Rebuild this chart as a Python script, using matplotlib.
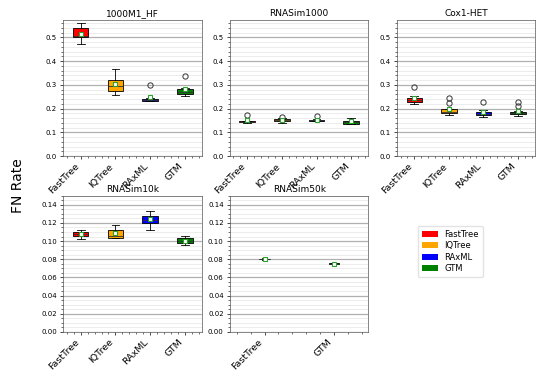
import matplotlib
matplotlib.use("Agg")
import matplotlib.pyplot as plt
from matplotlib.patches import Patch
from matplotlib.ticker import AutoMinorLocator

methods = ["FastTree", "IQTree", "RAxML", "GTM"]
colors = {"FastTree": "red", "IQTree": "orange", "RAxML": "blue", "GTM": "green"}

datasets = ["1000M1_HF", "RNASim1000", "Cox1-HET", "RNASim10k", "RNASim50k"]
ds_methods = {
    "1000M1_HF": ["FastTree", "IQTree", "RAxML", "GTM"],
    "RNASim1000": ["FastTree", "IQTree", "RAxML", "GTM"],
    "Cox1-HET": ["FastTree", "IQTree", "RAxML", "GTM"],
    "RNASim10k": ["FastTree", "IQTree", "RAxML", "GTM"],
    "RNASim50k": ["FastTree", "GTM"],
}
whislo = {
    "1000M1_HF": [0.472, 0.257, 0.232, 0.253],
    "RNASim1000": [0.141, 0.139, 0.147, 0.134],
    "Cox1-HET": [0.220, 0.172, 0.166, 0.170],
    "RNASim10k": [0.102, 0.103, 0.112, 0.096],
    "RNASim50k": [0.0793, 0.0742],
}
q1 = {
    "1000M1_HF": [0.501, 0.275, 0.233, 0.261],
    "RNASim1000": [0.142, 0.147, 0.149, 0.136],
    "Cox1-HET": [0.230, 0.182, 0.172, 0.176],
    "RNASim10k": [0.1057, 0.1035, 0.120, 0.098],
    "RNASim50k": [0.0797, 0.0745],
}
med = {
    "1000M1_HF": [0.507, 0.295, 0.237, 0.270],
    "RNASim1000": [0.145, 0.151, 0.151, 0.142],
    "Cox1-HET": [0.238, 0.188, 0.179, 0.180],
    "RNASim10k": [0.108, 0.106, 0.123, 0.100],
    "RNASim50k": [0.0800, 0.0750],
}
q3 = {
    "1000M1_HF": [0.538, 0.319, 0.241, 0.284],
    "RNASim1000": [0.147, 0.157, 0.154, 0.150],
    "Cox1-HET": [0.246, 0.198, 0.186, 0.187],
    "RNASim10k": [0.1105, 0.1124, 0.128, 0.1035],
    "RNASim50k": [0.0805, 0.0755],
}
whishi = {
    "1000M1_HF": [0.560, 0.368, 0.246, 0.286],
    "RNASim1000": [0.149, 0.159, 0.156, 0.159],
    "Cox1-HET": [0.255, 0.199, 0.196, 0.190],
    "RNASim10k": [0.1127, 0.1175, 0.133, 0.106],
    "RNASim50k": [0.0808, 0.0758],
}
means = {
    "1000M1_HF": [0.515, 0.302, 0.249, 0.285],
    "RNASim1000": [0.153, 0.153, 0.153, 0.148],
    "Cox1-HET": [0.245, 0.199, 0.187, 0.190],
    "RNASim10k": [0.1083, 0.109, 0.124, 0.1006],
    "RNASim50k": [0.0800, 0.0752],
}
fliers = {
    "1000M1_HF": [[], [], [0.298], [0.338]],
    "RNASim1000": [[0.174], [0.167], [0.171], []],
    "Cox1-HET": [[0.290], [0.246, 0.222], [0.228], [0.228, 0.211]],
    "RNASim10k": [[], [], [], []],
    "RNASim50k": [[], []],
}
ylims = {"1000M1_HF": 0.573, "RNASim1000": 0.573, "Cox1-HET": 0.573,
         "RNASim10k": 0.15, "RNASim50k": 0.15}

fig = plt.figure(figsize=(5.5, 3.72), dpi=100)
axes_pos = [(0.115, 0.58, 0.253, 0.366), (0.418, 0.58, 0.252, 0.366),
            (0.722, 0.58, 0.251, 0.366), (0.115, 0.108, 0.253, 0.366),
            (0.418, 0.108, 0.252, 0.366)]

for ds, pos in zip(datasets, axes_pos):
    ax = fig.add_axes(pos)
    ms = ds_methods[ds]
    stats = []
    for i, m in enumerate(ms):
        stats.append(dict(whislo=whislo[ds][i], q1=q1[ds][i], med=med[ds][i],
                          q3=q3[ds][i], whishi=whishi[ds][i], mean=means[ds][i],
                          fliers=fliers[ds][i], label=m))
    bp = ax.bxp(stats, showmeans=True, patch_artist=True,
                boxprops=dict(edgecolor="black", linewidth=0.6),
                whiskerprops=dict(color="black", linewidth=0.6),
                capprops=dict(color="black", linewidth=0.6),
                medianprops=dict(color="#333333", linewidth=0.6),
                meanprops=dict(marker="s", markerfacecolor="white",
                               markeredgecolor="#2ca02c", markersize=3.5,
                               markeredgewidth=0.8),
                flierprops=dict(marker="o", markerfacecolor="none",
                                markeredgecolor="#333333", markersize=3.8,
                                markeredgewidth=0.7))
    for patch, m in zip(bp["boxes"], ms):
        patch.set_facecolor(colors[m])
    ax.set_ylim(0, ylims[ds])
    ax.set_title(ds, fontsize=6.5, pad=3)
    ax.set_xticks(range(1, len(ms) + 1))
    ax.set_xticklabels(ms, rotation=45, ha="right", fontsize=6.8)
    ax.xaxis.set_minor_locator(AutoMinorLocator())
    ax.yaxis.set_minor_locator(AutoMinorLocator())
    ax.tick_params(axis="y", labelsize=5, length=2.5, width=0.5, pad=2)
    ax.tick_params(axis="x", length=2.5, width=0.5, pad=1.5)
    ax.tick_params(which="minor", length=1.5, width=0.4)
    ax.grid(True, which="major", axis="y", color="#b0b0b0", linewidth=0.9)
    ax.grid(True, which="minor", axis="y", color="#e4e4e4", linewidth=0.5)
    ax.set_axisbelow(True)
    for s in ax.spines.values():
        s.set_linewidth(0.5)
        s.set_color("#555555")

fig.text(0.033, 0.5, "FN Rate", rotation=90, va="center", ha="center", fontsize=10)

handles = [Patch(facecolor=colors[m], label=m) for m in methods]
fig.legend(handles=handles, loc="upper left", bbox_to_anchor=(0.752, 0.405),
           fontsize=6, frameon=True, handlelength=1.9, handleheight=0.7,
           labelspacing=0.3, borderpad=0.5, framealpha=0.8, edgecolor="#dddddd")

fig.savefig("out.png", dpi=100)
